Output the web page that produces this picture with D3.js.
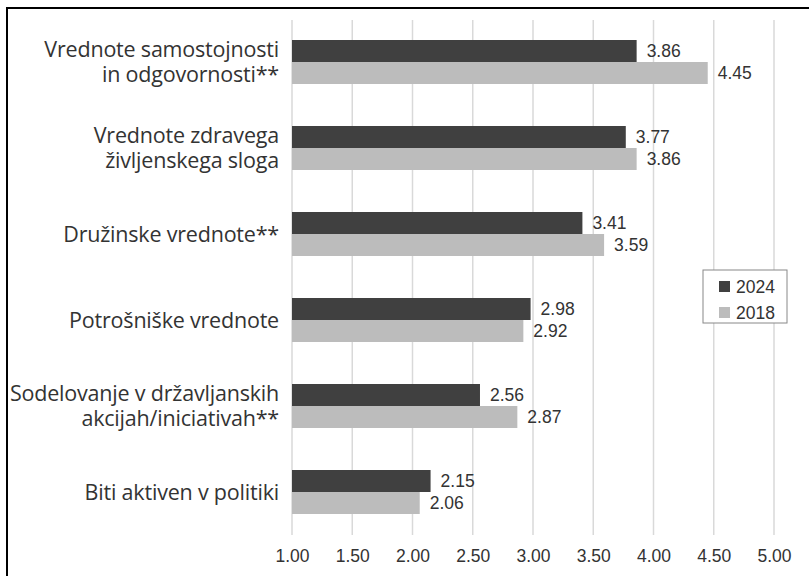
<!DOCTYPE html>
<html>
<head>
<meta charset="utf-8">
<script src="https://cdn.jsdelivr.net/npm/d3@7"></script>
<style>
  html, body { margin: 0; padding: 0; background: #fff; }
  svg { display: block; }
</style>
</head>
<body>
<svg id="chart" width="809" height="576"></svg>
<script>
const categories = [
  ["Vrednote samostojnosti", "in odgovornosti**"],
  ["Vrednote zdravega", "življenskega sloga"],
  ["Družinske vrednote**"],
  ["Potrošniške vrednote"],
  ["Sodelovanje v državljanskih", "akcijah/iniciativah**"],
  ["Biti aktiven v politiki"]
];
const seriesNames = ["2024", "2018"];
const values2024 = [3.86, 3.77, 3.41, 2.98, 2.56, 2.15];
const values2018 = [4.45, 3.86, 3.59, 2.92, 2.87, 2.06];
const tickValues = [1.00, 1.50, 2.00, 2.50, 3.00, 3.50, 4.00, 4.50, 5.00];
const colors = ["#404040", "#bcbcbc"];

const svg = d3.select("#chart");
const keys = categories.map((c, i) => i);

const x = d3.scaleLinear().domain([1, 5]).range([292, 774]);
const y = d3.scaleBand().domain(keys).range([19, 535]).paddingInner(0).paddingOuter(0);
const barH = 22;

// frame (open on the right and bottom)
svg.append("path")
  .attr("d", "M7,577 L7,8 L812,8")
  .attr("fill", "none").attr("stroke", "#000").attr("stroke-width", 2);

// gridlines
svg.append("g").selectAll("line").data(tickValues).join("line")
  .attr("x1", d => x(d)).attr("x2", d => x(d))
  .attr("y1", 20).attr("y2", 535)
  .attr("stroke", "#d9d9d9").attr("stroke-width", 1.5);

// x axis labels
const xAxis = d3.axisBottom(x).tickValues(tickValues).tickFormat(d3.format(".2f")).tickSize(0).tickPadding(0);
const gx = svg.append("g").attr("transform", "translate(0,550)").call(xAxis);
gx.select(".domain").remove();
gx.selectAll("text")
  .attr("font-family", "Liberation Sans, Arial, sans-serif")
  .attr("font-size", 17.5).attr("fill", "#333").attr("dy", "0.71em");

// bars
const series = [values2024, values2018];
series.forEach((vals, s) => {
  const g = svg.append("g");
  g.selectAll("rect").data(vals).join("rect")
    .attr("x", x(1))
    .attr("y", (d, i) => y(i) + y.bandwidth() / 2 - barH + s * barH)
    .attr("width", d => x(d) - x(1))
    .attr("height", barH)
    .attr("fill", colors[s]);
  g.selectAll("text").data(vals).join("text")
    .attr("x", d => x(d) + 10)
    .attr("y", (d, i) => y(i) + y.bandwidth() / 2 - barH / 2 + s * barH)
    .attr("dy", "0.36em")
    .attr("font-family", "Liberation Sans, Arial, sans-serif")
    .attr("font-size", 17.5).attr("fill", "#333")
    .text(d => d3.format(".2f")(d));
});

// category labels
const lg = svg.append("g");
categories.forEach((lines, i) => {
  const cy = y(i) + y.bandwidth() / 2;
  const lh = 25;
  const t = lg.append("text")
    .attr("transform", `translate(279,${cy})`)
    .attr("text-anchor", "end")
    .attr("font-family", "Open Sans, sans-serif")
    .attr("font-size", 21.5)
    .attr("letter-spacing", -0.2)
    .attr("fill", "#333");
  lines.forEach((ln, j) => {
    t.append("tspan").attr("x", 0)
      .attr("y", (j - (lines.length - 1) / 2) * lh)
      .attr("dy", "0.35em")
      .text(ln);
  });
});

// legend
const leg = svg.append("g");
leg.append("rect").attr("x", 703).attr("y", 270).attr("width", 84).attr("height", 53)
  .attr("fill", "#fff").attr("stroke", "#888").attr("stroke-width", 1);
seriesNames.forEach((n, i) => {
  leg.append("rect").attr("x", 719).attr("y", 281 + i * 26).attr("width", 11).attr("height", 11)
    .attr("fill", colors[i]);
  leg.append("text").attr("x", 736).attr("y", 286.5 + i * 26).attr("dy", "0.36em")
    .attr("font-family", "Liberation Sans, Arial, sans-serif")
    .attr("font-size", 17.5).attr("fill", "#333").text(n);
});
</script>
</body>
</html>
